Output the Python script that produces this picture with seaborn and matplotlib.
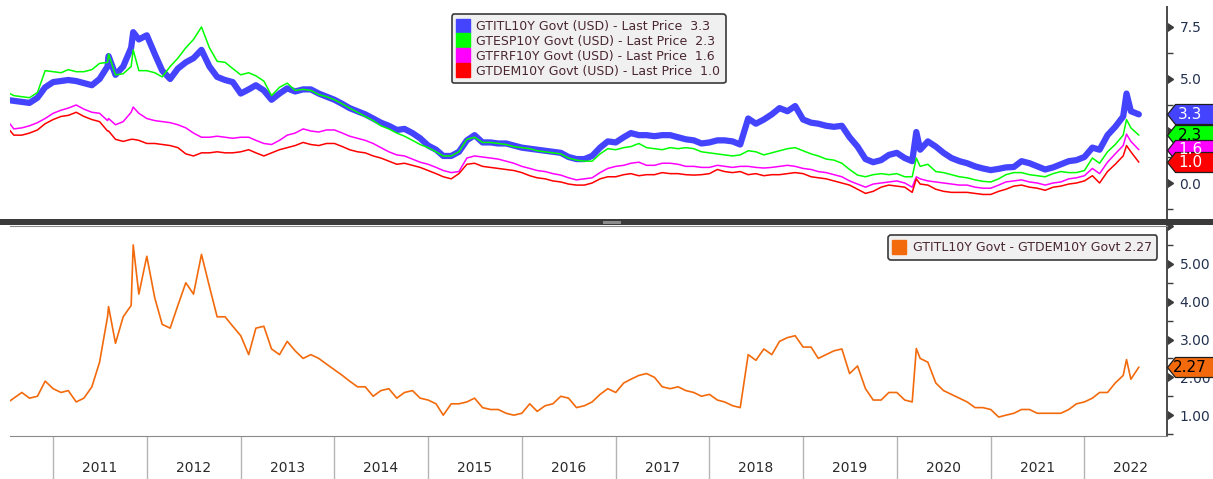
import numpy as np
import pandas as pd
import matplotlib
matplotlib.use("Agg")
import matplotlib.pyplot as plt
import matplotlib.dates as mdates
import matplotlib.ticker as mticker
from matplotlib.path import Path
from matplotlib.lines import Line2D
from matplotlib.patches import Rectangle
import seaborn as sns

# month-start readings, Jul 2010 .. Aug 2022 (146 points each)
it10 = [4.0, 3.95, 3.9, 3.85, 4.1, 4.6,
        4.85, 4.9, 4.95, 4.9, 4.8, 4.7, 5.0, 5.6, 5.2, 5.6, 6.5, 6.9,
        7.1, 6.2, 5.4, 5.0, 5.5, 5.8, 6.0, 6.4, 5.6, 5.1, 4.95, 4.85,
        4.3, 4.5, 4.7, 4.45, 4.0, 4.3, 4.55, 4.4, 4.5, 4.5, 4.3, 4.15,
        4.0, 3.8, 3.6, 3.45, 3.3, 3.1, 2.9, 2.75, 2.55, 2.6, 2.4, 2.15,
        1.8, 1.6, 1.3, 1.3, 1.5, 2.05, 2.3, 1.95, 1.95, 1.9, 1.9, 1.8,
        1.7, 1.65, 1.6, 1.55, 1.5, 1.45, 1.25, 1.15, 1.15, 1.3, 1.7, 2.0,
        1.95, 2.2, 2.4, 2.3, 2.3, 2.25, 2.3, 2.3, 2.2, 2.1, 2.05, 1.9,
        1.95, 2.05, 2.05, 2.0, 1.85, 3.1, 2.85, 3.05, 3.3, 3.6, 3.45, 3.7,
        3.05, 2.9, 2.85, 2.75, 2.7, 2.75, 2.2, 1.75, 1.15, 1.0, 1.1, 1.35,
        1.45, 1.2, 1.05, 1.6, 2.0, 1.75, 1.45, 1.2, 1.05, 0.95, 0.8, 0.7,
        0.62, 0.68, 0.75, 0.77, 1.05, 0.95, 0.8, 0.65, 0.75, 0.9, 1.05, 1.1,
        1.25, 1.7, 1.6, 2.3, 2.7, 3.2, 3.45, 3.3]
es10 = [4.4, 4.2, 4.15, 4.1, 4.35, 5.4,
        5.35, 5.3, 5.45, 5.35, 5.35, 5.45, 5.75, 5.8, 5.2, 5.25, 5.6, 5.4,
        5.4, 5.3, 5.1, 5.6, 6.0, 6.5, 6.9, 7.5, 6.5, 5.85, 5.8, 5.5,
        5.2, 5.3, 5.15, 4.9, 4.2, 4.6, 4.8, 4.45, 4.5, 4.45, 4.25, 4.15,
        4.0, 3.8, 3.6, 3.4, 3.2, 3.0, 2.75, 2.6, 2.4, 2.25, 2.05, 1.85,
        1.7, 1.5, 1.3, 1.3, 1.5, 2.1, 2.2, 1.95, 1.95, 1.9, 1.85, 1.75,
        1.7, 1.65, 1.55, 1.5, 1.45, 1.4, 1.2, 1.1, 1.05, 1.05, 1.4, 1.65,
        1.6, 1.7, 1.75, 1.9, 1.7, 1.65, 1.6, 1.7, 1.65, 1.7, 1.65, 1.5,
        1.45, 1.4, 1.35, 1.3, 1.35, 1.55, 1.5, 1.35, 1.45, 1.55, 1.65, 1.7,
        1.55, 1.4, 1.3, 1.15, 1.1, 0.95, 0.65, 0.38, 0.3, 0.4, 0.45, 0.4,
        0.45, 0.3, 0.3, 0.8, 0.9, 0.55, 0.5, 0.4, 0.3, 0.25, 0.15, 0.08,
        0.05, 0.2, 0.4, 0.5, 0.5, 0.4, 0.35, 0.3, 0.45, 0.55, 0.5, 0.5,
        0.6, 1.2, 0.95, 1.5, 1.85, 2.3, 2.65, 2.3]
fr10 = [3.1, 2.6, 2.65, 2.75, 2.9, 3.1,
        3.35, 3.5, 3.6, 3.75, 3.55, 3.4, 3.35, 3.0, 2.8, 2.95, 3.4, 3.35,
        3.1, 3.0, 2.95, 2.9, 2.8, 2.65, 2.4, 2.2, 2.2, 2.25, 2.2, 2.15,
        2.2, 2.2, 2.05, 1.9, 1.85, 2.05, 2.3, 2.4, 2.6, 2.5, 2.45, 2.55,
        2.55, 2.4, 2.25, 2.15, 2.05, 1.9, 1.7, 1.5, 1.35, 1.3, 1.15, 1.0,
        0.9, 0.75, 0.6, 0.5, 0.55, 1.2, 1.3, 1.25, 1.2, 1.15, 1.05, 0.95,
        0.8, 0.7, 0.6, 0.55, 0.45, 0.38, 0.25, 0.15, 0.2, 0.25, 0.5, 0.7,
        0.8, 0.85, 0.95, 1.0, 0.85, 0.85, 0.95, 0.95, 0.9, 0.8, 0.8, 0.75,
        0.75, 0.85, 0.8, 0.75, 0.8, 0.8, 0.75, 0.72, 0.75, 0.8, 0.85, 0.8,
        0.7, 0.65, 0.55, 0.5, 0.4, 0.3, 0.1, -0.05, -0.2, -0.05, 0.0, 0.05,
        0.1, 0.0, -0.2, 0.2, 0.1, 0.05, 0.0, -0.05, -0.1, -0.1, -0.2, -0.25,
        -0.25, -0.1, 0.05, 0.1, 0.15, 0.05, 0.0, -0.1, 0.0, 0.05, 0.2, 0.25,
        0.35, 0.7, 0.45, 1.0, 1.4, 1.8, 2.0, 1.6]
de10 = [2.75, 2.3, 2.3, 2.4, 2.55, 2.85,
        3.05, 3.2, 3.25, 3.4, 3.2, 3.05, 2.95, 2.5, 2.1, 2.0, 2.1, 2.05,
        1.9, 1.9, 1.85, 1.8, 1.7, 1.4, 1.3, 1.45, 1.45, 1.5, 1.45, 1.45,
        1.5, 1.6, 1.45, 1.3, 1.45, 1.6, 1.7, 1.8, 1.95, 1.85, 1.8, 1.9,
        1.9, 1.75, 1.6, 1.5, 1.45, 1.3, 1.2, 1.05, 0.9, 0.95, 0.85, 0.75,
        0.6, 0.45, 0.3, 0.2, 0.45, 0.9, 0.95, 0.8, 0.75, 0.7, 0.65, 0.6,
        0.5, 0.35, 0.25, 0.2, 0.1, 0.05, -0.05, -0.1, -0.1, 0.0, 0.2, 0.3,
        0.3, 0.4, 0.45, 0.35, 0.4, 0.4, 0.5, 0.45, 0.45, 0.4, 0.38, 0.4,
        0.45, 0.65, 0.55, 0.5, 0.55, 0.4, 0.45, 0.35, 0.4, 0.4, 0.45, 0.5,
        0.45, 0.3, 0.25, 0.2, 0.1, 0.0, -0.1, -0.3, -0.5, -0.4, -0.2, -0.1,
        -0.15, -0.2, -0.45, -0.05, -0.1, -0.3, -0.4, -0.45, -0.45, -0.45, -0.5, -0.55,
        -0.55, -0.4, -0.3, -0.15, -0.1, -0.2, -0.25, -0.35, -0.2, -0.15, -0.05, 0.0,
        0.1, 0.35, 0.0, 0.55, 0.9, 1.3, 1.5, 1.0]
spread = [1.3, 1.45, 1.6, 1.45, 1.5, 1.9,
          1.7, 1.6, 1.65, 1.35, 1.45, 1.75, 2.4, 3.6, 2.9, 3.6, 3.9, 4.2,
          5.2, 4.1, 3.4, 3.3, 3.9, 4.5, 4.2, 5.25, 4.4, 3.6, 3.6, 3.35,
          3.1, 2.6, 3.3, 3.35, 2.75, 2.6, 2.95, 2.7, 2.5, 2.6, 2.5, 2.35,
          2.2, 2.05, 1.9, 1.75, 1.75, 1.5, 1.65, 1.7, 1.45, 1.6, 1.65, 1.45,
          1.4, 1.3, 1.0, 1.3, 1.3, 1.35, 1.45, 1.2, 1.15, 1.15, 1.05, 1.0,
          1.05, 1.3, 1.1, 1.25, 1.3, 1.5, 1.45, 1.2, 1.25, 1.35, 1.55, 1.7,
          1.6, 1.85, 1.95, 2.05, 2.1, 2.0, 1.75, 1.7, 1.75, 1.65, 1.6, 1.5,
          1.55, 1.4, 1.35, 1.25, 1.2, 2.6, 2.45, 2.75, 2.6, 2.95, 3.05, 3.1,
          2.8, 2.8, 2.5, 2.6, 2.7, 2.75, 2.1, 2.3, 1.7, 1.4, 1.4, 1.6,
          1.6, 1.4, 1.35, 2.5, 2.4, 1.85, 1.65, 1.55, 1.45, 1.35, 1.2, 1.2,
          1.15, 0.95, 1.0, 1.05, 1.15, 1.15, 1.05, 1.05, 1.05, 1.05, 1.15, 1.3,
          1.35, 1.45, 1.6, 1.6, 1.85, 2.05, 1.95, 2.27]

# short-lived spikes read between the monthly points
spike_dates = ["2011-08-05", "2011-11-09", "2020-03-17", "2022-06-14"]
it10_spk = [6.1, 7.25, 2.45, 4.3]
es10_spk = [6.2, 6.4, 1.2, 3.05]
fr10_spk = [3.1, 3.65, 0.3, 2.35]
de10_spk = [2.5, 2.1, 0.2, 1.8]
spread_spk = [3.87, 5.5, 2.76, 2.47]

labels = ["GTITL10Y Govt (USD) - Last Price", "GTESP10Y Govt (USD) - Last Price",
          "GTFRF10Y Govt (USD) - Last Price", "GTDEM10Y Govt (USD) - Last Price"]
spread_label = "GTITL10Y Govt - GTDEM10Y Govt"
colors = ["#4444ff", "#00ff00", "#ff00ff", "#ff0000"]
tag_text = ["white", "black", "white", "white"]
orange = "#f26a0c"

dates = pd.date_range("2010-07-01", periods=len(it10), freq="MS")
df = pd.DataFrame({"date": dates, "IT": it10, "ES": es10, "FR": fr10, "DE": de10, "SPR": spread})
spk = pd.DataFrame({"date": pd.to_datetime(spike_dates), "IT": it10_spk, "ES": es10_spk,
                    "FR": fr10_spk, "DE": de10_spk, "SPR": spread_spk})
df = pd.concat([df, spk]).sort_values("date").reset_index(drop=True)

sns.set_style("white")
plt.rcParams["font.family"] = ["DejaVu Sans"]

fig = plt.figure(figsize=(12.13, 4.79), dpi=100)
ax1 = fig.add_axes([0.00824, 0.5428, 0.9539, 0.4426])
ax2 = fig.add_axes([0.00824, 0.0898, 0.9539, 0.4384])

cols = ["IT", "ES", "FR", "DE"]
widths = [4.5, 1.1, 1.1, 1.1]
for c, col, lw in zip(cols, colors, widths):
    sns.lineplot(data=df, x="date", y=c, ax=ax1, color=col, linewidth=lw)
sns.lineplot(data=df, x="date", y="SPR", ax=ax2, color=orange, linewidth=1.2)

xlim = (pd.Timestamp("2010-07-17"), pd.Timestamp("2022-11-19"))
tick_col = "#233150"
for ax in (ax1, ax2):
    ax.set_xlim(xlim)
    ax.set_xlabel("")
    ax.set_ylabel("")
    ax.yaxis.tick_right()
    ax.spines["left"].set_visible(False)
    ax.spines["right"].set_color("#4a4a4a")
    ax.spines["right"].set_linewidth(1.4)
    ax.tick_params(axis="y", which="major", length=6, width=1, colors="#3c3c3c",
                   labelcolor=tick_col, labelsize=10, pad=3)
    ax.tick_params(axis="y", which="minor", length=4, width=1, colors="#3c3c3c", right=True)

# top panel (the 2.5 label sits behind the price tags, so it is left blank)
ax1.set_ylim(-1.73, 8.46)
ax1.yaxis.set_major_locator(mticker.FixedLocator([0, 2.5, 5, 7.5]))
ax1.yaxis.set_minor_locator(mticker.FixedLocator([-1.25, 1.25, 3.75, 6.25]))
ax1.yaxis.set_major_formatter(mticker.FuncFormatter(lambda v, p: "" if v == 2.5 else "%.1f" % v))
ax1.spines["top"].set_visible(False)
ax1.spines["bottom"].set_visible(False)
ax1.set_xticks([])

# bottom panel
ax2.set_ylim(0.45, 6.0)
ax2.yaxis.set_major_locator(mticker.FixedLocator([1, 2, 3, 4, 5, 6]))
ax2.yaxis.set_minor_locator(mticker.FixedLocator([0.5, 1.5, 2.5, 3.5, 4.5, 5.5]))
ax2.yaxis.set_major_formatter(mticker.FuncFormatter(lambda v, p: "" if v > 5.5 else "%.2f" % v))
ax2.spines["top"].set_color("#8a8a8a")
ax2.spines["bottom"].set_color("#8a8a8a")
ax2.xaxis.set_major_locator(mdates.YearLocator())
ax2.xaxis.set_major_formatter(mticker.NullFormatter())
ax2.xaxis.set_minor_locator(mdates.MonthLocator(bymonth=7, bymonthday=1))
ax2.xaxis.set_minor_formatter(mdates.DateFormatter("%Y"))
ax2.tick_params(axis="x", which="major", bottom=True, length=32, width=1, color="#b4b4b4", direction="out")
ax2.tick_params(axis="x", which="minor", bottom=True, length=0, pad=18, labelsize=10, labelcolor="#2a2a2a")

# triangle markers on the major y ticks
for ax in (ax1, ax2):
    for t in ax.yaxis.get_major_ticks():
        t.tick2line.set_marker(9)
        t.tick2line.set_markersize(6)
        t.tick2line.set_color("#3c3c3c")

# legends
leg_kw = dict(frameon=True, fancybox=True, framealpha=1, facecolor="#f0f0f0", edgecolor="#3a3a3a",
              fontsize=9, handlelength=0.9, handletextpad=0.6, borderpad=0.45, labelspacing=0.15,
              labelcolor="#4a2630")
handles = [Line2D([], [], marker="s", linestyle="none", markersize=9.5, color=c) for c in colors]
last = [it10[-1], es10[-1], fr10[-1], de10[-1]]
leg1 = ax1.legend(handles, ["%s  %.1f" % (l, v) for l, v in zip(labels, last)],
                  loc="upper center", bbox_to_anchor=(0.5, 0.995), **leg_kw)
leg1.get_frame().set_linewidth(1.2)
h2 = [Line2D([], [], marker="s", linestyle="none", markersize=9.5, color=orange)]
leg2 = ax2.legend(h2, ["%s %.2f" % (spread_label, spread[-1])], loc="upper right",
                  bbox_to_anchor=(0.997, 0.985), **leg_kw)
leg2.get_frame().set_linewidth(1.2)

# last-price tags on the right axis
tag_path = Path([(0, 0), (8, 10), (55, 10), (55, -10), (8, -10), (0, 0)],
                [Path.MOVETO, Path.LINETO, Path.LINETO, Path.LINETO, Path.LINETO, Path.CLOSEPOLY])


def price_tag(ax, value, face, txt, fmt):
    ax.plot([1.0], [value], transform=ax.get_yaxis_transform(), marker=tag_path,
            markersize=2 * 55 * 0.72, markerfacecolor=face, markeredgecolor="#1e1e1e",
            markeredgewidth=0.9, clip_on=False, zorder=6, linestyle="none")
    ax.annotate(fmt % value, xy=(1.0, value), xycoords=ax.get_yaxis_transform(),
                xytext=(16.5, 0), textcoords="offset points", ha="center", va="center",
                color=txt, fontsize=11, annotation_clip=False, zorder=7)


for v, c, tc in zip(last, colors, tag_text):
    price_tag(ax1, v, c, tc, "%.1f")
price_tag(ax2, spread[-1], orange, "black", "%.2f")

# divider between the panels
fig.add_artist(Rectangle((0, 1 - 225 / 479), 1, 6 / 479, transform=fig.transFigure,
                         facecolor="#3a3a3a", edgecolor="none", zorder=10))
fig.add_artist(Rectangle((603 / 1213, 1 - 223.5 / 479), 18 / 1213, 3 / 479, transform=fig.transFigure,
                         facecolor="#8c8c8c", edgecolor="none", zorder=11))

fig.savefig("out.png", dpi=100, facecolor="white")
